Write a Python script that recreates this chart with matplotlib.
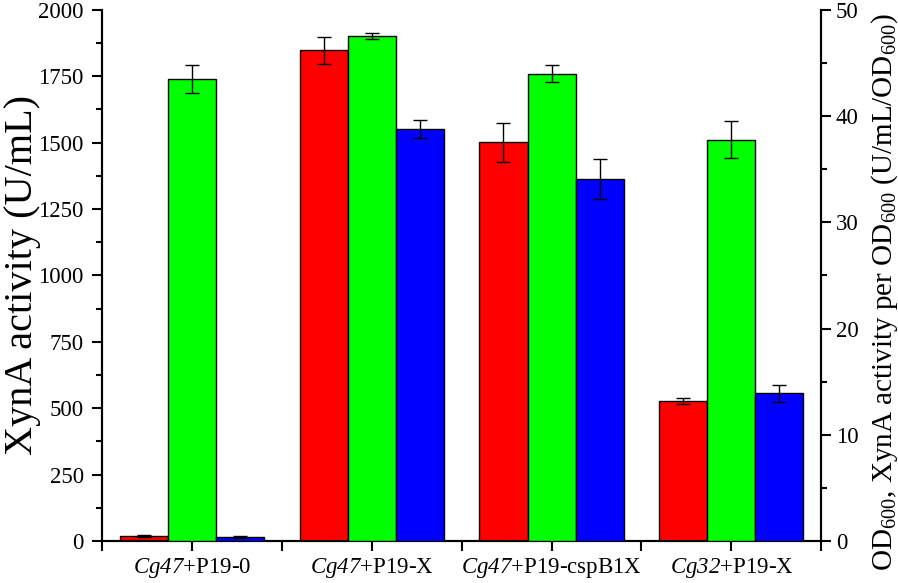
import matplotlib
matplotlib.use("Agg")
import matplotlib.pyplot as plt
import numpy as np
from matplotlib.ticker import MultipleLocator

plt.rcParams['font.family'] = ['Liberation Serif', 'DejaVu Serif']
plt.rcParams['mathtext.fontset'] = 'custom'
plt.rcParams['mathtext.rm'] = 'Liberation Serif'
plt.rcParams['mathtext.it'] = 'Liberation Serif:italic'
plt.rcParams['mathtext.sf'] = 'Liberation Serif:italic'

categories = [r"$\mathsf{Cg47}$+P19-0", r"$\mathsf{Cg47}$+P19-X",
              r"$\mathsf{Cg47}$+P19-cspB1X", r"$\mathsf{Cg32}$+P19-X"]
# Left axis: XynA activity (U/mL)
activity = [20, 1848, 1502, 527]
activity_err = [3, 50, 73, 12]
# Right axis: OD600
od600 = [43.5, 47.55, 44.0, 37.8]
od600_err = [1.3, 0.27, 0.77, 1.7]
# Right axis: XynA activity per OD600
per_od = [0.4, 38.8, 34.1, 13.9]
per_od_err = [0.07, 0.87, 1.87, 0.83]

fig = plt.figure(figsize=(8.98, 5.83), dpi=100)
ax = fig.add_axes([0.1133, 0.072, 0.8014, 0.911])
ax2 = ax.twinx()

x = np.arange(len(categories))
w = 0.267
ekw = dict(ecolor='black', elinewidth=1.0, capsize=5, capthick=1.0)
ax.bar(x - w, activity, w, color='#ff0000', edgecolor='black', linewidth=1.0,
       yerr=activity_err, error_kw=ekw, zorder=3)
ax2.bar(x, od600, w, color='#00ff00', edgecolor='black', linewidth=1.0,
        yerr=od600_err, error_kw=ekw, zorder=3)
ax2.bar(x + w, per_od, w, color='#0000ff', edgecolor='black', linewidth=1.0,
        yerr=per_od_err, error_kw=ekw, zorder=3)

ax.set_xlim(-0.5, 3.5)
ax.set_ylim(0, 2000)
ax2.set_ylim(0, 50)

ax.set_xticks(x)
ax.set_xticklabels(categories, fontsize=16.5)
ax.xaxis.set_minor_locator(MultipleLocator(0.5))
ax.yaxis.set_major_locator(MultipleLocator(250))
ax.yaxis.set_minor_locator(MultipleLocator(125))
ax2.yaxis.set_major_locator(MultipleLocator(10))
ax2.yaxis.set_minor_locator(MultipleLocator(5))

for a in (ax, ax2):
    a.spines['top'].set_visible(False)
    for s in a.spines.values():
        s.set_linewidth(1.5)
    a.tick_params(which='major', direction='out', length=7, width=1.5, labelsize=16.5)
    a.tick_params(which='minor', direction='out', length=4, width=1.5)

ax.tick_params(axis='y', which='major', pad=6)
ax.tick_params(axis='x', which='minor', length=7)
ax.set_ylabel("XynA activity (U/mL)", fontsize=29)
ax.yaxis.set_label_coords(-0.084, 0.5)
ax2.set_ylabel(r"OD$_{600}$, XynA activity per OD$_{600}$ (U/mL/OD$_{600}$)", fontsize=21)
ax2.yaxis.set_label_coords(1.066, 0.468)

fig.savefig("out.png", dpi=100)
